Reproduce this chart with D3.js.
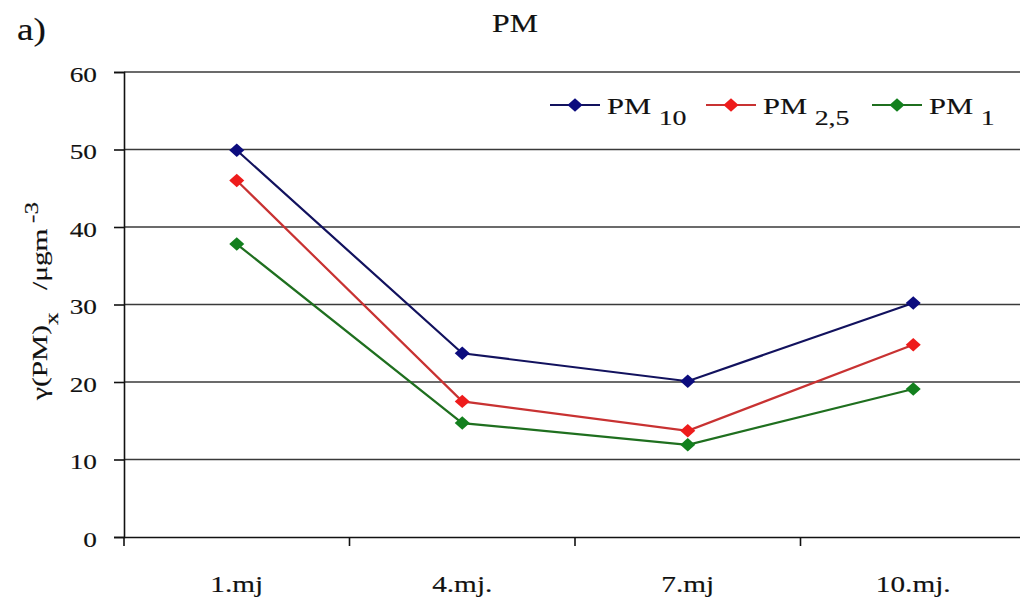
<!DOCTYPE html>
<html><head><meta charset="utf-8">
<script src="https://cdn.jsdelivr.net/npm/d3@7"></script>
<style>body{margin:0;background:#fff}svg{display:block}</style>
</head><body><svg id="c" width="1020" height="601"></svg>
<script>
const categories = ["1.mj", "4.mj.", "7.mj", "10.mj."];
const pm10 = [49.9, 23.7, 20.1, 30.2];
const pm25 = [46.0, 17.5, 13.7, 24.8];
const pm1 = [37.8, 14.7, 11.9, 19.1];
const yTicks = [0, 10, 20, 30, 40, 50, 60];
const seriesNames = [["PM", "10"], ["PM", "2,5"], ["PM", "1"]];
const colors = ["#0c0c7e", "#ee1c1c", "#13801e"];
const lineColors = ["#12125e", "#c83232", "#1f6f1f"];

const FONT = '"Liberation Serif"';
const SX = 1.3;
const svg = d3.select("#c");
const pLeft = 124, pRight = 1026, pTop = 72, pBottom = 537;
const x = d3.scaleBand().domain(categories).range([pLeft, pRight]);
const y = d3.scaleLinear().domain([0, 60]).range([pBottom, pTop]);

function stretch(sel, s) {
  sel.each(function () {
    const t = d3.select(this);
    const ax = +t.attr("x") || 0, ay = +t.attr("y") || 0;
    t.attr("transform", `translate(${ax},${ay}) scale(${s},1) translate(${-ax},${-ay})`);
  });
}
function txt(sel, size) {
  return sel.style("font-family", FONT).style("font-size", size + "px").attr("fill", "#111")
    .attr("stroke", "#111").attr("stroke-width", 0.15);
}

// gridlines
svg.append("g").selectAll("line").data(yTicks.filter(d => d > 0)).join("line")
  .attr("x1", pLeft).attr("x2", 1020).attr("y1", d => y(d)).attr("y2", d => y(d))
  .attr("stroke", "#3a3a3a").attr("stroke-width", 1.6);

// y axis
const ya = svg.append("g").attr("transform", `translate(${pLeft},0)`)
  .call(d3.axisLeft(y).tickValues(yTicks).tickSize(10).tickPadding(17));
ya.select(".domain").attr("stroke", "#111").attr("stroke-width", 1.6);
ya.selectAll(".tick line").attr("stroke", "#111").attr("stroke-width", 1.6);
txt(ya.selectAll("text"), 21).attr("dy", "0.45em");
stretch(ya.selectAll("text"), SX);

// x axis
const xa = svg.append("g").attr("transform", `translate(0,${pBottom})`)
  .call(d3.axisBottom(x).tickSize(0).tickPadding(0));
xa.select(".domain").attr("stroke", "#111").attr("stroke-width", 1.6);
txt(xa.selectAll("text"), 24).attr("dy", "0").attr("y", 55);
stretch(xa.selectAll("text"), 1.22);
// category boundary ticks
const bounds = categories.map(c => x(c)).concat([pRight]);
svg.append("g").selectAll("line").data(bounds).join("line")
  .attr("x1", d => d).attr("x2", d => d).attr("y1", pBottom).attr("y2", pBottom + 9)
  .attr("stroke", "#111").attr("stroke-width", 1.6);

const cx = c => x(c) + x.bandwidth() / 2;
const series = [pm10, pm25, pm1];
const line = d3.line().x((d, i) => cx(categories[i])).y(d => y(d));
const diamond = d3.symbol().type(d3.symbolDiamond2).size(115);
series.forEach((s, k) => {
  svg.append("path").datum(s).attr("d", line).attr("fill", "none")
    .attr("stroke", lineColors[k]).attr("stroke-width", 2.2);
  svg.append("g").selectAll("path").data(s).join("path")
    .attr("d", diamond)
    .attr("transform", (d, i) => `translate(${cx(categories[i])},${y(d)}) scale(1.12,1)`)
    .attr("fill", colors[k]);
});

// legend
const legX = [550, 706, 872];
const legY = 105;
seriesNames.forEach((n, k) => {
  const g = svg.append("g");
  g.append("line").attr("x1", legX[k]).attr("x2", legX[k] + 50).attr("y1", legY).attr("y2", legY)
    .attr("stroke", lineColors[k]).attr("stroke-width", 2.2);
  g.append("path").attr("d", diamond).attr("transform", `translate(${legX[k] + 25},${legY}) scale(1.12,1)`).attr("fill", colors[k]);
  const t = txt(g.append("text"), 24).attr("x", legX[k] + 57).attr("y", legY + 9);
  t.append("tspan").text(n[0]);
  t.append("tspan").attr("dx", 6).attr("dy", 11).style("font-size", "22px").text(n[1]);
  stretch(t, 1.27);
});

// title
const title = txt(svg.append("text"), 25).attr("x", 515).attr("y", 32).attr("text-anchor", "middle").text("PM");
stretch(title, 1.27);
const lab = txt(svg.append("text"), 31).attr("x", 17).attr("y", 40).text("a)");
stretch(lab, 1.2);

// y label
const yl = txt(svg.append("text"), 21).attr("transform", "translate(47,400) rotate(-90) scale(1.4,1)");
yl.append("tspan").text("γ(PM)");
yl.append("tspan").attr("dy", 11).style("font-size", "18px").text("x");
yl.append("tspan").attr("dy", -11).attr("dx", 16).text("/μgm");
yl.append("tspan").attr("dy", -9).attr("dx", 4).style("font-size", "18px").text("-3");
</script></body></html>
